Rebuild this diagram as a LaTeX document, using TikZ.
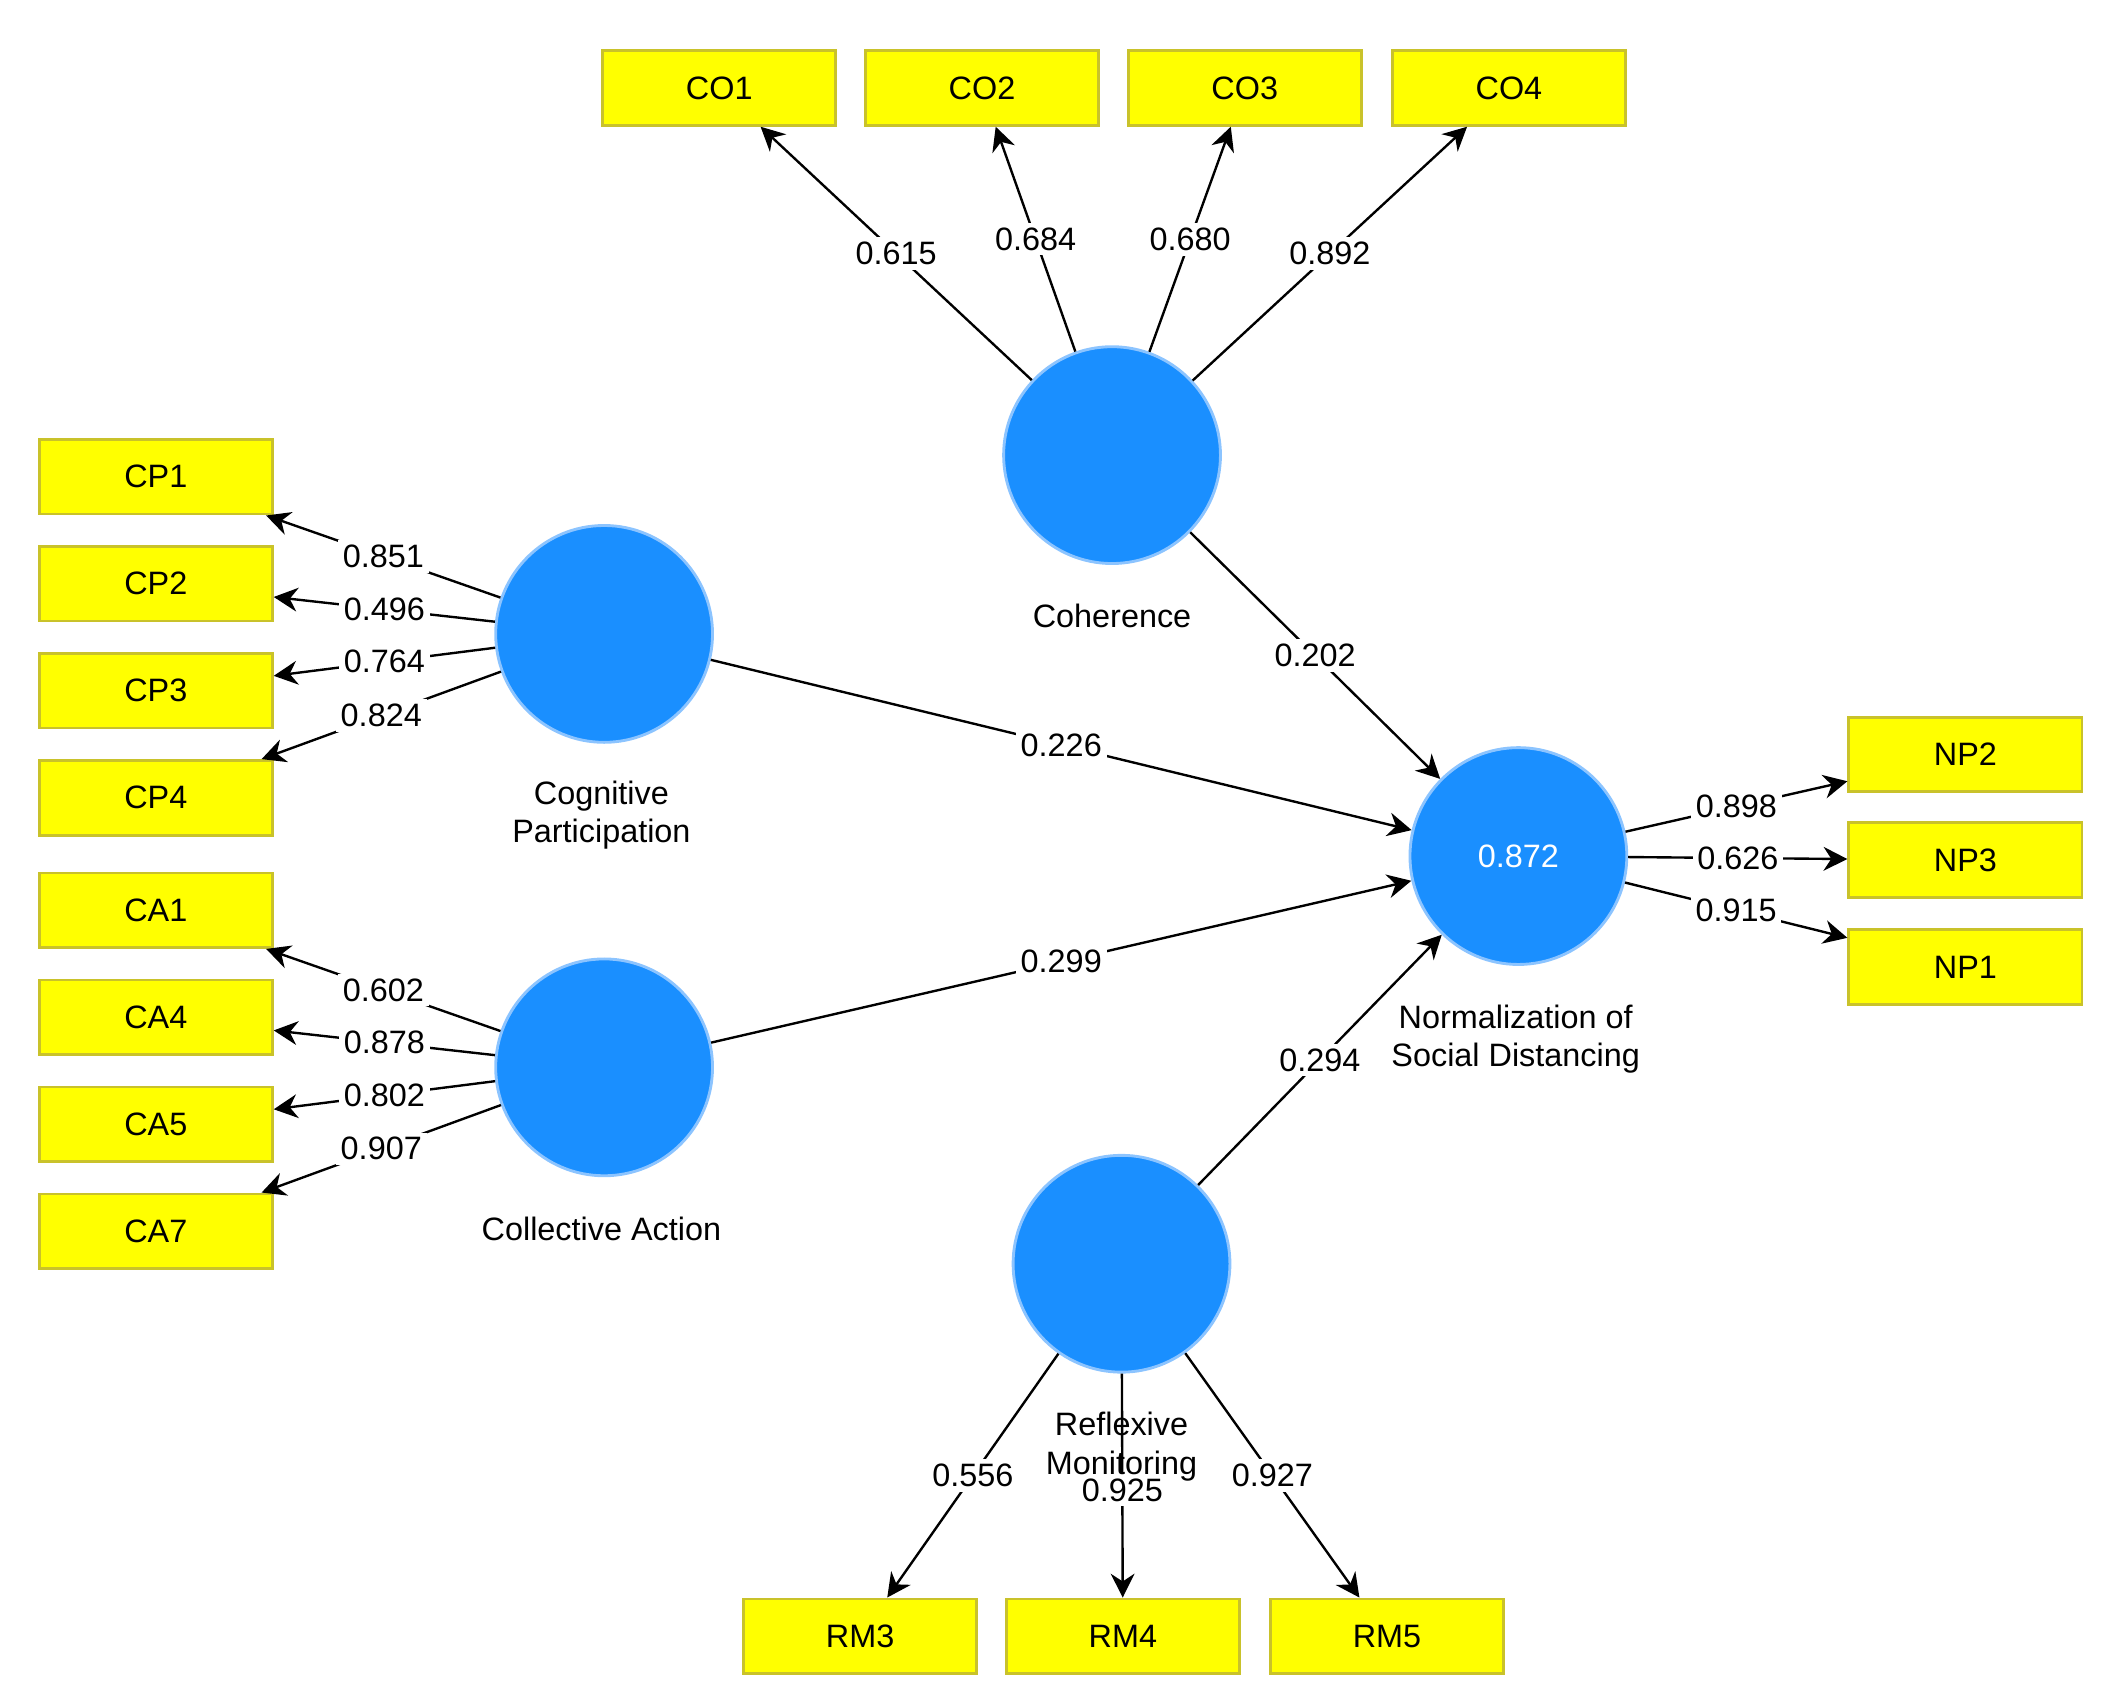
\documentclass[tikz,border=0pt]{standalone}
\usepackage{fontspec}
\setmainfont{Liberation Sans}
\usetikzlibrary{arrows.meta}
\definecolor{boxy}{HTML}{FFFF00}
\definecolor{boxb}{HTML}{C9C22A}
\definecolor{lv}{HTML}{1A8FFF}
\definecolor{lvb}{HTML}{8CC4FF}
\begin{document}
\begin{tikzpicture}[x=0.01cm,y=-0.01cm,
  every node/.style={font=\fontsize{6.8}{8}\selectfont},
  ind/.style={draw=boxb,fill=boxy,line width=0.6pt,minimum width=1.72cm,minimum height=0.55cm,inner sep=0},
  lat/.style={circle,draw=lvb,fill=lv,line width=0.6pt,minimum size=1.6cm,inner sep=0},
  lab/.style={align=center},
  arr/.style={-{Stealth[length=5pt,width=5pt]},line width=0.5pt},
  w/.style={fill=white,inner sep=1pt,pos=0.5}]
\useasboundingbox (0,0) rectangle (1560,1260);
% latent
\node[lat] (coh) at (821,336) {};
\node[lat] (cp) at (446,468) {};
\node[lat] (ca) at (446,788) {};
\node[lat,text=white] (ns) at (1121,632) {0.872};
\node[lat] (rm) at (828,933) {};
\node[lab] (lcoh) at (821,455) {Coherence};
\node[lab] (lcp) at (444,602) {Cognitive\\Participation};
\node[lab] (lca) at (444,907) {Collective Action};
\node[lab] (lns) at (1119,767) {Normalization of\\Social Distancing};
% indicators
\node[ind] (co1) at (531,65) {CO1};
\node[ind] (co2) at (725,65) {CO2};
\node[ind] (co3) at (919,65) {CO3};
\node[ind] (co4) at (1114,65) {CO4};
\node[ind] (cp1) at (115,352) {CP1};
\node[ind] (cp2) at (115,431) {CP2};
\node[ind] (cp3) at (115,510) {CP3};
\node[ind] (cp4) at (115,589) {CP4};
\node[ind] (ca1) at (115,672) {CA1};
\node[ind] (ca4) at (115,751) {CA4};
\node[ind] (ca5) at (115,830) {CA5};
\node[ind] (ca7) at (115,909) {CA7};
\node[ind] (np2) at (1451,557) {NP2};
\node[ind] (np3) at (1451,635) {NP3};
\node[ind] (np1) at (1451,714) {NP1};
\node[ind] (rm3) at (635,1208) {RM3};
\node[ind] (rm4) at (829,1208) {RM4};
\node[ind] (rm5) at (1024,1208) {RM5};
% loadings
\draw[arr] (coh) -- node[w]{0.615} (co1);
\draw[arr] (coh) -- node[w]{0.684} (co2);
\draw[arr] (coh) -- node[w]{0.680} (co3);
\draw[arr] (coh) -- node[w]{0.892} (co4);
\draw[arr] (cp) -- node[w]{0.851} (cp1);
\draw[arr] (cp) -- node[w]{0.496} (cp2);
\draw[arr] (cp) -- node[w]{0.764} (cp3);
\draw[arr] (cp) -- node[w]{0.824} (cp4);
\draw[arr] (ca) -- node[w]{0.602} (ca1);
\draw[arr] (ca) -- node[w]{0.878} (ca4);
\draw[arr] (ca) -- node[w]{0.802} (ca5);
\draw[arr] (ca) -- node[w]{0.907} (ca7);
\draw[arr] (ns) -- node[w]{0.898} (np2);
\draw[arr] (ns) -- node[w]{0.626} (np3);
\draw[arr] (ns) -- node[w]{0.915} (np1);
\draw[arr] (rm) -- node[w]{0.556} (rm3);
\draw[arr] (rm) -- node[w,pos=0.52]{0.925} (rm4);
\draw[arr] (rm) -- node[w]{0.927} (rm5);
% paths
\draw[arr] (coh) -- node[w]{0.202} (ns);
\draw[arr] (cp) -- node[w]{0.226} (ns);
\draw[arr] (ca) -- node[w]{0.299} (ns);
\draw[arr] (rm) -- node[w]{0.294} (ns);
\node[lab] (lrm) at (828,1068) {Reflexive\\Monitoring};
\end{tikzpicture}
\end{document}
